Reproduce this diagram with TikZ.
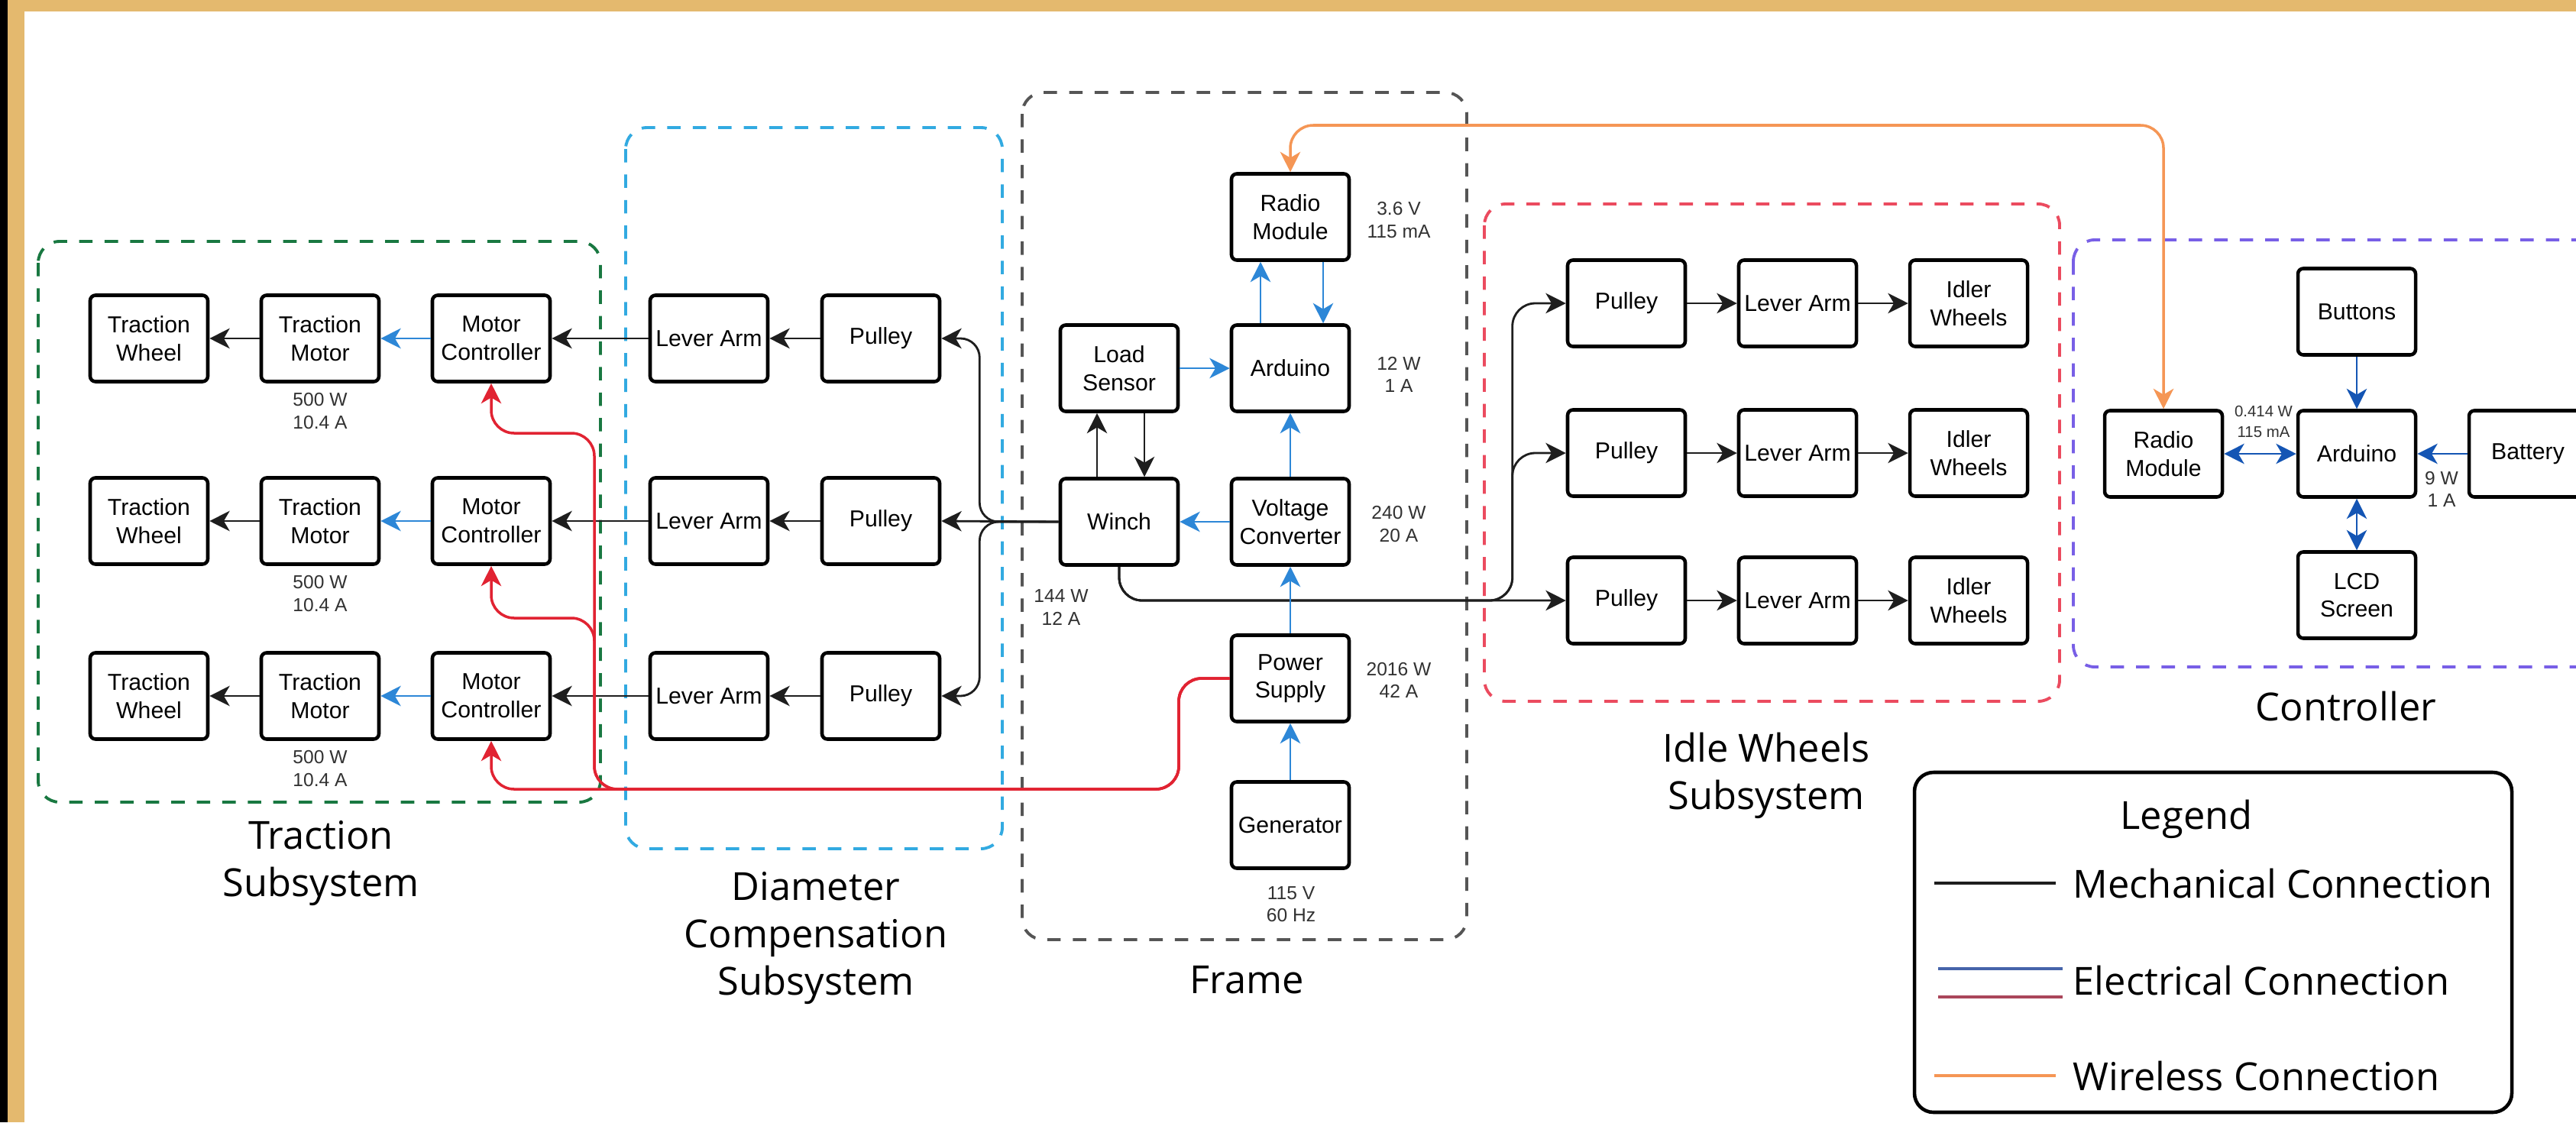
\documentclass[tikz,border=0pt]{standalone}
\usepackage{fontspec}
\setmainfont{Liberation Sans}
\newfontfamily\labelfont{Open Sans}
\usetikzlibrary{arrows.meta,calc}
\definecolor{goldc}{RGB}{228,185,110}
\definecolor{grnc}{RGB}{25,120,65}
\definecolor{ltblue}{RGB}{50,170,225}
\definecolor{framegray}{RGB}{85,85,85}
\definecolor{idlered}{RGB}{235,75,95}
\definecolor{purp}{RGB}{120,95,230}
\definecolor{eblue}{RGB}{45,135,215}
\definecolor{cblue}{RGB}{20,85,180}
\definecolor{wred}{RGB}{225,35,50}
\definecolor{wor}{RGB}{245,150,85}
\definecolor{lblue}{RGB}{70,100,170}
\definecolor{lred}{RGB}{170,70,90}
\definecolor{numgray}{RGB}{50,50,50}
\definecolor{mechc}{RGB}{30,30,30}
\tikzset{
  box/.style={draw=black, line width=1.3pt, rounded corners=2pt, fill=white, minimum width=1.54cm, minimum height=1.13cm, inner sep=0pt, align=center, font=\fontsize{8.6}{10.4}\selectfont},
  num/.style={inner sep=0pt, align=center, text=numgray, font=\fontsize{7}{8.3}\selectfont},
  smallnum/.style={inner sep=0pt, align=center, text=numgray, font=\fontsize{5.8}{7.6}\selectfont},
  sublabel/.style={inner sep=0pt, align=center, font=\labelfont\fontsize{14.4}{17.6}\selectfont},
  grp/.style={line width=1.1pt, dash pattern=on 5pt off 4.5pt, rounded corners=0.28cm},
  mech/.style={draw=mechc, line width=0.8pt, -{Stealth[length=7.5pt,width=7.5pt,inset=2.2pt]}},
  elec/.style={draw=eblue, line width=0.8pt, -{Stealth[length=7.5pt,width=7.5pt,inset=2.2pt]}},
  celec/.style={draw=cblue, line width=0.8pt, -{Stealth[length=7.5pt,width=7.5pt,inset=2.2pt]}},
  celectwo/.style={draw=cblue, line width=0.8pt, {Stealth[length=7.5pt,width=7.5pt,inset=2.2pt]}-{Stealth[length=7.5pt,width=7.5pt,inset=2.2pt]}},
  pwr/.style={draw=wred, line width=1pt, rounded corners=0.3cm, -{Stealth[length=7.5pt,width=7.5pt,inset=2.2pt]}},
  wire/.style={draw=wor, line width=1pt, rounded corners=0.3cm, {Stealth[length=7.5pt,width=7.5pt,inset=2.2pt]}-{Stealth[length=7.5pt,width=7.5pt,inset=2.2pt]}},
}
\begin{document}
\begin{tikzpicture}
\useasboundingbox (0,0) rectangle (33.72,-14.69);
\fill[white] (0,0) rectangle (33.72,-14.69);
\fill[black] (0,0) rectangle (0.10,-14.69);
\fill[goldc] (0.10,0) rectangle (0.32,-14.69);
\fill[goldc] (0.10,0) rectangle (33.72,-0.15);
\begin{scope}
\clip (0,0) rectangle (33.72,-14.69);
% groups
\draw[grp, draw=grnc] (0.50,-3.16) rectangle (7.86,-10.50);
\draw[grp, draw=ltblue] (8.19,-1.67) rectangle (13.12,-11.11);
\draw[grp, draw=framegray] (13.38,-1.21) rectangle (19.20,-12.30);
\draw[grp, draw=idlered] (19.43,-2.67) rectangle (26.96,-9.18);
\draw[grp, draw=purp] (27.14,-3.14) rectangle (34.40,-8.73);

% traction
\foreach \r/\y in {1/-4.43, 2/-6.82, 3/-9.11}{
  \node[box] (tw\r) at (1.95,\y) {Traction\\Wheel};
  \node[box] (tm\r) at (4.19,\y) {Traction\\Motor};
  \node[box] (mc\r) at (6.43,\y) {Motor\\Controller};
  \node[box] (la\r) at (9.28,\y) {Lever Arm};
  \node[box] (pu\r) at (11.53,\y) {Pulley};
  \node[num] (tn\r) at (4.19,\y-0.95) {500 W\\10.4 A};
  \draw[mech] (pu\r.west) -- (la\r.east);
  \draw[mech] (la\r.west) -- (mc\r.east);
  \draw[elec] (mc\r.west) -- (tm\r.east);
  \draw[mech] (tm\r.west) -- (tw\r.east);
}

% frame
\node[box] (ls) at (14.65,-4.82) {Load\\Sensor};
\node[box] (ard) at (16.89,-4.82) {Arduino};
\node[box] (rm) at (16.89,-2.84) {Radio\\Module};
\node[box] (win) at (14.65,-6.83) {Winch};
\node[box] (vc) at (16.89,-6.83) {Voltage\\Converter};
\node[box] (ps) at (16.89,-8.88) {Power\\Supply};
\node[box] (gen) at (16.89,-10.80) {Generator};
\node[num] (n1) at (18.31,-2.88) {3.6 V\\115 mA};
\node[num] (n2) at (18.31,-4.90) {12 W\\1 A};
\node[num] (n3) at (18.31,-6.86) {240 W\\20 A};
\node[num] (n4) at (18.31,-8.90) {2016 W\\42 A};
\node[num] (n5) at (13.89,-7.95) {144 W\\12 A};
\node[num] (n6) at (16.90,-11.84) {115 V\\60 Hz};

% idle wheels
\foreach \r/\y in {1/-3.97, 2/-5.93, 3/-7.86}{
  \node[box] (ip\r) at (21.29,\y) {Pulley};
  \node[box] (il\r) at (23.53,\y) {Lever Arm};
  \node[box] (iw\r) at (25.77,\y) {Idler\\Wheels};
  \draw[mech] (ip\r.east) -- (il\r.west);
  \draw[mech] (il\r.east) -- (iw\r.west);
}

% controller
\node[box] (crm) at (28.32,-5.94) {Radio\\Module};
\node[box] (card) at (30.85,-5.94) {Arduino};
\node[box] (cbt) at (30.85,-4.08) {Buttons};
\node[box] (clcd) at (30.85,-7.79) {LCD\\Screen};
\node[box] (cbat) at (33.09,-5.94) {Battery};
\node[smallnum] (n7) at (29.63,-5.52) {0.414 W\\115 mA};
\node[num] (n8) at (31.96,-6.40) {9 W\\1 A};

% frame connections
\draw[mech] (win.west) -- (pu2.east);
\draw[mech, rounded corners=0.25cm] (win.west) -| ($(pu1.east)+(0.5,0)$) -- (pu1.east);
\draw[mech, rounded corners=0.25cm] (win.west) -| ($(pu3.east)+(0.5,0)$) -- (pu3.east);
\draw[mech] ($(win.north)+(-0.29,0)$) -- ($(ls.south)+(-0.29,0)$);
\draw[mech] ($(ls.south)+(0.33,0)$) -- ($(win.north)+(0.33,0)$);
\draw[mech, rounded corners=0.3cm] (win.south) |- (ip3.west);
\draw[mech, rounded corners=0.3cm] (win.south) |- ($(ip3.west)+(-0.70,0)$) |- (ip2.west);
\draw[mech, rounded corners=0.3cm] (win.south) |- ($(ip3.west)+(-0.70,0)$) |- (ip1.west);

\draw[elec] (ls.east) -- (ard.west);
\draw[elec] ($(ard.north)+(-0.39,0)$) -- ($(rm.south)+(-0.39,0)$);
\draw[elec] ($(rm.south)+(0.43,0)$) -- ($(ard.north)+(0.43,0)$);
\draw[elec] (vc.north) -- (ard.south);
\draw[elec] (vc.west) -- (win.east);
\draw[elec] (ps.north) -- (vc.south);
\draw[elec] (gen.north) -- (ps.south);

% power wires
\draw[pwr] (ps.west) -| (15.43,-10.33) -| (mc3.south);
\draw[pwr] (ps.west) -| (15.43,-10.33) -| (7.78,-8.09) -| (mc2.south);
\draw[pwr] (ps.west) -| (15.43,-10.33) -| (7.78,-5.67) -| (mc1.south);

% wireless
\draw[wire] (rm.north) |- (22.00,-1.64) -| (crm.north);

% controller connections
\draw[celec] (cbt.south) -- (card.north);
\draw[celectwo] (crm.east) -- (card.west);
\draw[celec] (cbat.west) -- (card.east);
\draw[celectwo] (card.south) -- (clcd.north);

% labels
\node[sublabel] (lt) at (4.20,-11.30) {Traction\\Subsystem};
\node[sublabel] (ld) at (10.68,-12.28) {Diameter\\Compensation\\Subsystem};
\node[sublabel] (lf) at (16.32,-12.83) {Frame};
\node[sublabel] (li) at (23.12,-10.15) {Idle Wheels\\Subsystem};
\node[sublabel] (lc) at (30.71,-9.25) {Controller};

% legend
\node[draw=black, line width=1.3pt, rounded corners=0.25cm, minimum width=7.82cm, minimum height=4.45cm, inner sep=0pt] (leg) at (28.97,-12.335) {};
\node[sublabel] (legt) at (28.62,-10.72) {Legend};
\draw[mechc, line width=1pt] (25.32,-11.56) -- (26.91,-11.56);
\node[sublabel, anchor=west] (lg1) at (27.13,-11.56) {Mechanical Connection};
\draw[lblue, line width=1pt] (25.37,-12.68) -- (27.00,-12.68);
\draw[lred, line width=1.2pt] (25.37,-13.05) -- (27.00,-13.05);
\node[sublabel, anchor=west] (lg2) at (27.13,-12.83) {Electrical Connection};
\draw[wor, line width=1pt] (25.32,-14.08) -- (26.91,-14.08);
\node[sublabel, anchor=west] (lg3) at (27.13,-14.08) {Wireless Connection};
\end{scope}
\end{tikzpicture}
\end{document}
